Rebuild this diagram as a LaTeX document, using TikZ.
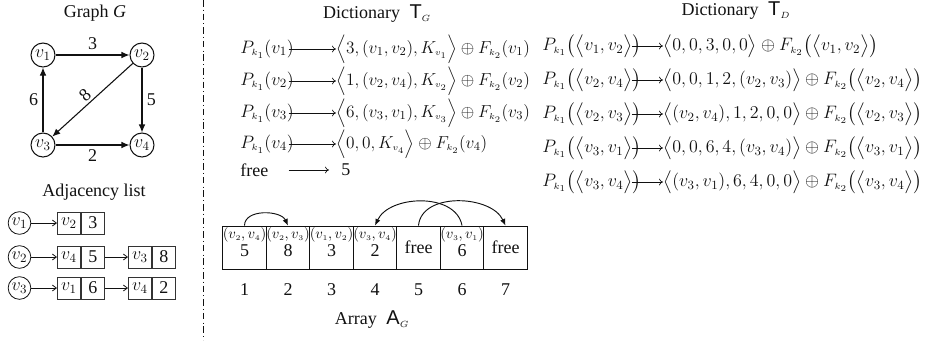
\RequirePackage{fix-cm}
\documentclass[tikz,border=0pt]{standalone}
\usepackage{amsmath}
\usepackage[no-math]{fontspec}
\setmainfont{Liberation Serif}
\newfontfamily\sansT{Liberation Sans}
\usetikzlibrary{arrows.meta,calc}
\definecolor{Ink}{HTML}{111111}
\definecolor{Rule}{HTML}{333333}
\newcommand{\ssub}[1]{_{\scriptscriptstyle #1}}
\newcommand{\bigT}[1]{{\sansT\fontsize{15}{16}\selectfont #1}}
\tikzset{
  vtx/.style={circle,draw=Ink,line width=.8pt,minimum size=18pt,inner sep=0pt},
  lvtx/.style={circle,draw=Ink,line width=.6pt,minimum size=17pt,inner sep=0pt},
  half/.style={rectangle,draw=Rule,line width=.7pt,minimum width=17.25pt,minimum height=16.5pt,inner sep=0pt},
  slot/.style={rectangle,draw=Ink,line width=.6pt,minimum width=32.6pt,minimum height=32.25pt,inner sep=0pt,align=center,font=\fontsize{11}{13.5}\selectfont},
  pair/.style={slot,text depth=9pt},
  gedge/.style={-{Latex[length=6pt,width=5pt]},line width=.8pt,Ink},
  ledge/.style={-{Straight Barb[length=3pt,width=4.5pt]},line width=.6pt,Ink},
  dedge/.style={-{To[length=3pt,width=5pt]},line width=.5pt,Ink},
  aedge/.style={-{Latex[length=5pt,width=4pt]},line width=.7pt,Ink},
  tkey/.style={anchor=west,inner sep=0pt,text width=36pt,align=left},
  dkey/.style={anchor=west,inner sep=0pt,text width=67pt,align=left},
  tval/.style={anchor=west,inner sep=0pt},
  gval/.style={tval,font=\fontsize{13}{15}\selectfont}
}
\begin{document}
\begin{tikzpicture}[x=.75pt,y=-.75pt,every node/.style={font=\fontsize{13.5}{16}\selectfont,text=Ink}]
\useasboundingbox (0,0) rectangle (934,340);
\node (gtitle) at (95,13) {Graph \textit{G}};
\node[vtx] (v1) at (43,55) {$v_1$};
\node[vtx] (v2) at (142,55) {$v_2$};
\node[vtx] (v3) at (43,145) {$v_3$};
\node[vtx] (v4) at (142,145) {$v_4$};
\draw[gedge] (v1) -- node[above] {3} (v2);
\draw[gedge] (v2) -- node[right] {5} (v4);
\draw[gedge] (v3) -- node[left] {6} (v1);
\draw[gedge] (v3) -- node[below] {2} (v4);
\draw[gedge] (v2) -- node[sloped,above,pos=.52,inner sep=1.5pt] {8} (v3);
\node (atitle) at (94,192) {Adjacency list};
\node[lvtx] (r1) at (19.5,223) {$v_1$};
\node[half,anchor=west] (r1ak) at (57,223) {$v_2$};
\node[half,anchor=west] (r1aw) at (r1ak.east) {3};
\draw[ledge] (r1) -- (r1ak);
\node[lvtx] (r2) at (19.5,257) {$v_2$};
\node[half,anchor=west] (r2ak) at (57,257) {$v_4$};
\node[half,anchor=west] (r2aw) at (r2ak.east) {5};
\node[half,anchor=west] (r2bk) at (128,257) {$v_3$};
\node[half,anchor=west] (r2bw) at (r2bk.east) {8};
\draw[ledge] (r2) -- (r2ak);
\draw[ledge] (r2aw) -- (r2bk);
\node[lvtx] (r3) at (19.5,288) {$v_3$};
\node[half,anchor=west] (r3ak) at (57,288) {$v_1$};
\node[half,anchor=west] (r3aw) at (r3ak.east) {6};
\node[half,anchor=west] (r3bk) at (128,288) {$v_4$};
\node[half,anchor=west] (r3bw) at (r3bk.east) {2};
\draw[ledge] (r3) -- (r3ak);
\draw[ledge] (r3aw) -- (r3bk);
\draw[Ink,line width=.7pt,dash pattern=on 5pt off 2.3pt on .6pt off 2.3pt] (203,0) -- (203,340);
\node (tgtitle) at (377,14) {Dictionary\; \bigT{T}$\ssub{G}$};
\node[tkey] (g1k) at (240,49) {$P\ssub{k_1}(v_1)$};
\node[gval] (g1v) at (336,49) {$\Big\langle 3,(v_1,v_2),K\ssub{v_1}\Big\rangle\oplus F\ssub{k_2}(v_1)$};
\node[tkey] (g2k) at (240,81) {$P\ssub{k_1}(v_2)$};
\node[gval] (g2v) at (336,81) {$\Big\langle 1,(v_2,v_4),K\ssub{v_2}\Big\rangle\oplus F\ssub{k_2}(v_2)$};
\node[tkey] (g3k) at (240,113) {$P\ssub{k_1}(v_3)$};
\node[gval] (g3v) at (336,113) {$\Big\langle 6,(v_3,v_1),K\ssub{v_3}\Big\rangle\oplus F\ssub{k_2}(v_3)$};
\node[tkey] (g4k) at (240,144) {$P\ssub{k_1}(v_4)$};
\node[gval] (g4v) at (336,144) {$\Big\langle 0,0,K\ssub{v_4}\Big\rangle\oplus F\ssub{k_2}(v_4)$};
\node[tkey] (g5k) at (240,170) {free};
\node[tval,inner xsep=9pt] (g5v) at (329,170) {5};
\draw[dedge] (g1k.east) -- (g1v.west);
\draw[dedge] (g2k.east) -- (g2v.west);
\draw[dedge] (g3k.east) -- (g3v.west);
\draw[dedge] (g4k.east) -- (g4v.west);
\draw[dedge] (g5k.east) -- (g5v.west);
\node (tdtitle) at (736,11) {Dictionary\; \bigT{T}$\ssub{D}$};
\node[dkey] (d1k) at (542,46) {$P\ssub{k_1}\big(\big\langle v_1,v_2\big\rangle\big)$};
\node[tval] (d1v) at (663,46) {$\big\langle 0,0,3,0,0\big\rangle\oplus F\ssub{k_2}\big(\big\langle v_1,v_2\big\rangle\big)$};
\node[dkey] (d2k) at (542,80) {$P\ssub{k_1}\big(\big\langle v_2,v_4\big\rangle\big)$};
\node[tval] (d2v) at (663,80) {$\big\langle 0,0,1,2,(v_2,v_3)\big\rangle\oplus F\ssub{k_2}\big(\big\langle v_2,v_4\big\rangle\big)$};
\node[dkey] (d3k) at (542,114) {$P\ssub{k_1}\big(\big\langle v_2,v_3\big\rangle\big)$};
\node[tval] (d3v) at (663,114) {$\big\langle (v_2,v_4),1,2,0,0\big\rangle\oplus F\ssub{k_2}\big(\big\langle v_2,v_3\big\rangle\big)$};
\node[dkey] (d4k) at (542,148) {$P\ssub{k_1}\big(\big\langle v_3,v_1\big\rangle\big)$};
\node[tval] (d4v) at (663,148) {$\big\langle 0,0,6,4,(v_3,v_4)\big\rangle\oplus F\ssub{k_2}\big(\big\langle v_3,v_1\big\rangle\big)$};
\node[dkey] (d5k) at (542,182) {$P\ssub{k_1}\big(\big\langle v_3,v_4\big\rangle\big)$};
\node[tval] (d5v) at (663,182) {$\big\langle (v_3,v_1),6,4,0,0\big\rangle\oplus F\ssub{k_2}\big(\big\langle v_3,v_4\big\rangle\big)$};
\draw[dedge] (d1k.east) -- (d1v.west);
\draw[dedge] (d2k.east) -- (d2v.west);
\draw[dedge] (d3k.east) -- (d3v.west);
\draw[dedge] (d4k.east) -- (d4v.west);
\draw[dedge] (d5k.east) -- (d5v.west);
\node[pair] (c1) at (244.5,247.5) {$(v\ssub{2},v\ssub{4})$\\{\fontsize{13.5}{14}\selectfont 5}};
\node[pair] (c2) at (288,247.5) {$(v\ssub{2},v\ssub{3})$\\{\fontsize{13.5}{14}\selectfont 8}};
\node[pair] (c3) at (331.5,247.5) {$(v\ssub{1},v\ssub{2})$\\{\fontsize{13.5}{14}\selectfont 3}};
\node[pair] (c4) at (375,247.5) {$(v\ssub{3},v\ssub{4})$\\{\fontsize{13.5}{14}\selectfont 2}};
\node[slot,font=\fontsize{13.5}{16}\selectfont] (c5) at (418.5,247.5) {free};
\node[pair] (c6) at (462,247.5) {$(v\ssub{3},v\ssub{1})$\\{\fontsize{13.5}{14}\selectfont 6}};
\node[slot,font=\fontsize{13.5}{16}\selectfont] (c7) at (505.5,247.5) {free};
\foreach \k in {1,...,7}
  \node (i\k) at ($(c\k)+(0,42.5)$) {\k};
\draw[aedge] (c1.north) to[out=90,in=115] (c2.north);
\draw[aedge] (c6.north) to[out=100,in=65] (c4.north);
\draw[aedge] (c5.north) to[out=85,in=115] (c7.north);
\node (agtitle) at (372,320) {Array\; \bigT{A}$\ssub{G}$};
\end{tikzpicture}
\end{document}
